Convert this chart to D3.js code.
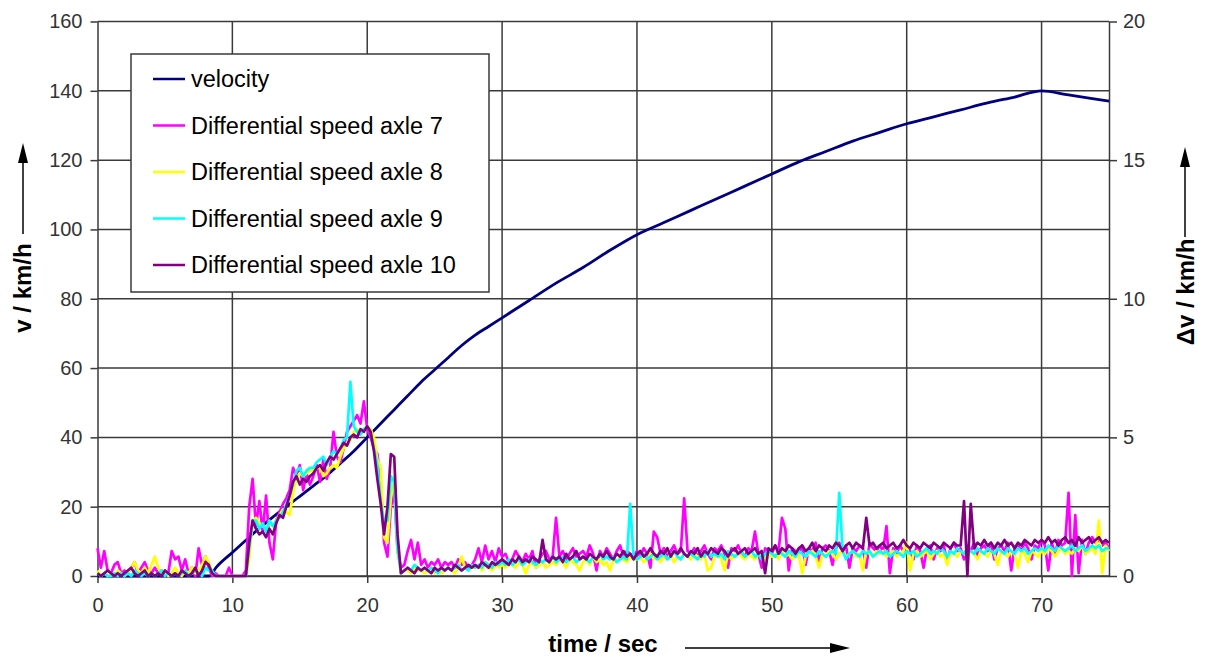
<!DOCTYPE html>
<html lang="en">
<head>
<meta charset="UTF-8">
<title>Velocity and differential speed</title>
<script src="https://cdn.jsdelivr.net/npm/d3@7/dist/d3.min.js"></script>
<style>
  body { margin: 0; background: #fff; }
  svg text { font-family: "Liberation Sans", Arial, sans-serif; }
</style>
</head>
<body>
<script>
// velocity (left axis, km/h) sampled at these times (s)
const velT = [0, 8.3, 8.8, 10, 11, 12, 13, 14, 15, 16, 17, 18, 19, 20, 21, 22, 23, 24, 25, 26, 27, 28, 29, 30,
  32, 34, 36, 38, 40, 42, 44, 46, 48, 50, 52, 54, 56, 58, 60, 62, 64, 66, 68, 70, 72, 75];
const velV = [0, 0, 2.5, 6.8, 10.3, 13.8, 17, 20, 23, 26, 29, 32.5, 36, 40, 44, 48, 52, 56, 59.5, 63, 66.5, 69.5, 72, 74.5,
  79.5, 84.5, 89, 94, 98.5, 102, 105.5, 109, 112.5, 116, 119.5, 122.5, 125.5, 128, 130.5, 132.5, 134.5, 136.5, 138.2, 140, 138.8, 137];

// differential speed (right axis, km/h), one value every 0.25 s from 0 to 75 s
const sampleStep = 0.25;
const axle7 = [
  1.0,0.3,0.9,0.2,0.1,0.4,0.5,0.1,  // 0
  0.2,0.1,0.3,0.5,0.1,0.3,0.5,0.2,  // 2
  0.1,0.3,0.1,0.2,0.0,0.1,0.9,0.6,  // 4
  0.7,0.2,0.6,0.1,0.3,0.0,1.0,0.4,  // 6
  0.7,0.3,0.0,0.1,0.0,0.0,0.0,0.3,  // 8
  0.0,0.0,0.0,0.0,0.2,2.5,3.5,1.8,  // 10
  2.7,1.6,2.9,1.2,0.6,2.0,2.3,2.6,  // 12
  2.8,3.1,3.9,3.6,4.0,3.1,3.7,3.3,  // 14
  3.6,4.0,3.4,4.2,3.5,3.9,5.2,4.3,  // 16
  4.1,4.6,5.2,5.4,5.6,5.8,5.5,6.3,  // 18
  5.3,5.0,4.6,4.4,3.4,1.2,0.7,2.5,  // 20
  3.0,0.9,0.3,0.4,0.9,1.3,0.6,1.2,  // 22
  0.4,0.6,0.3,0.5,0.4,0.6,0.3,0.5,  // 24
  0.4,0.5,0.3,0.6,0.4,0.5,0.3,0.4,  // 26
  0.6,1.0,0.5,1.1,0.6,0.9,0.5,1.0,  // 28
  0.7,0.8,0.5,0.6,0.9,0.7,0.5,0.8,  // 30
  0.6,0.9,0.3,0.6,0.8,0.9,0.6,0.7,  // 32
  2.1,0.7,0.9,0.6,0.8,1.0,0.7,0.8,  // 34
  0.9,0.7,1.1,0.8,0.2,0.9,0.7,1.0,  // 36
  0.8,0.6,0.9,1.1,0.7,0.9,0.8,0.7,  // 38
  0.9,0.7,1.0,0.8,0.3,1.6,1.4,0.8,  // 40
  1.0,0.7,0.9,1.1,0.8,0.9,2.8,0.9,  // 42
  0.8,1.0,0.7,0.9,1.1,0.8,0.6,1.0,  // 44
  0.9,1.1,0.8,0.3,1.0,0.9,1.1,0.8,  // 46
  0.7,1.0,0.9,1.6,0.8,0.3,1.0,0.9,  // 48
  0.8,1.1,0.9,2.1,1.7,0.2,1.0,0.9,  // 50
  0.8,1.1,0.4,1.0,0.9,1.2,0.5,1.0,  // 52
  1.1,0.9,0.4,1.0,1.2,0.9,1.1,0.3,  // 54
  1.0,0.9,1.1,1.0,0.3,1.2,1.0,0.9,  // 56
  1.1,0.9,1.8,0.1,1.0,0.8,1.1,0.9,  // 58
  1.0,0.9,0.6,1.1,0.9,0.3,1.0,1.1,  // 60
  0.6,1.0,0.9,1.1,0.5,1.0,1.2,0.9,  // 62
  1.0,0.6,1.1,0.9,1.2,0.7,1.0,1.1,  // 64
  0.9,1.2,0.6,1.0,1.1,0.9,1.2,0.2,  // 66
  1.0,1.1,0.9,1.2,1.0,0.6,1.1,1.0,  // 68
  1.3,1.1,0.2,1.2,0.8,1.3,1.1,1.2,  // 70
  3.0,0.0,2.2,0.1,1.3,0.8,1.2,1.4,  // 72
  1.2,1.3,1.1,1.2,1.0               // 74
];
const axle8 = [
  0.2,0.0,0.1,0.0,0.1,0.0,0.2,0.1,
  0.0,0.1,0.3,0.5,0.2,0.1,0.3,0.1,
  0.4,0.7,0.3,0.1,0.2,0.0,0.1,0.3,
  0.1,0.0,0.2,0.1,0.3,0.1,0.2,0.4,
  0.7,0.5,0.1,0.0,0.0,0.0,0.0,0.0,
  0.0,0.0,0.0,0.0,0.0,0.6,2.0,2.1,
  1.9,1.8,1.7,1.9,1.8,2.0,2.2,2.4,
  2.3,2.2,3.0,3.5,3.7,3.6,3.7,3.8,
  3.8,3.9,3.9,3.6,3.7,3.9,4.0,3.9,
  4.3,4.6,4.8,4.9,5.2,5.3,5.2,5.3,
  5.4,5.3,5.0,4.2,3.9,1.4,1.2,2.8,
  3.6,0.9,0.1,0.2,0.2,0.1,0.3,0.2,
  0.2,0.1,0.2,0.3,0.1,0.2,0.1,0.2,
  0.3,0.2,0.1,0.3,0.7,0.3,0.2,0.3,
  0.3,0.4,0.2,0.5,0.3,0.2,0.4,0.3,
  0.4,0.3,0.5,0.4,0.3,0.5,0.4,0.1,
  0.4,0.5,0.3,0.4,0.5,0.3,0.4,0.5,
  0.4,0.6,0.5,0.3,0.6,0.5,0.4,0.2,
  0.5,0.6,0.4,0.7,0.5,0.6,0.4,0.5,
  0.2,0.6,0.5,0.7,0.6,0.5,0.7,0.6,
  0.6,0.7,0.5,0.6,0.8,0.6,0.7,0.5,
  0.7,0.6,0.8,0.5,0.7,0.6,0.8,0.7,
  0.6,0.8,0.7,0.6,0.8,0.2,0.3,0.7,
  0.8,0.6,0.2,0.8,0.6,0.7,0.9,0.7,
  0.6,0.8,0.7,0.6,0.8,0.7,0.6,0.8,
  0.7,0.8,0.6,0.9,0.7,0.8,0.6,0.7,
  0.8,0.1,0.7,0.8,0.9,0.7,0.3,0.8,
  0.7,0.9,0.8,0.6,0.8,0.9,0.7,0.8,
  0.9,0.7,0.8,0.2,0.9,0.8,0.7,0.9,
  0.8,0.9,0.7,0.8,0.9,0.7,0.8,0.9,
  1.2,0.2,0.8,0.9,0.7,0.8,0.9,0.6,
  0.8,0.9,0.7,0.8,0.4,0.9,0.8,0.7,
  0.9,0.8,0.7,0.9,0.8,0.6,0.9,0.8,
  0.7,0.9,0.8,0.4,0.9,0.8,0.7,0.9,
  0.8,0.3,0.9,0.8,0.5,0.9,0.8,0.7,
  0.9,0.8,1.0,0.9,0.7,0.9,1.0,0.8,
  0.9,0.8,1.0,0.9,1.1,0.8,0.9,1.0,
  0.8,2.0,0.1,1.1,0.9
];
const axle9 = [
  0.1,0.0,0.1,0.0,0.0,0.1,0.0,0.1,
  0.0,0.1,0.0,0.2,0.1,0.0,0.1,0.0,
  0.1,0.0,0.1,0.2,0.0,0.1,0.0,0.1,
  0.0,0.1,0.2,0.0,0.1,0.2,0.1,0.0,
  0.3,0.2,0.2,0.0,0.0,0.0,0.0,0.0,
  0.0,0.0,0.0,0.0,0.0,1.0,2.0,2.0,
  1.7,1.9,1.6,2.0,1.8,2.0,2.1,2.3,
  2.6,2.9,3.3,3.8,3.9,3.6,3.8,3.9,
  3.9,4.1,4.2,4.3,4.0,4.3,4.5,4.4,
  4.6,4.9,5.0,7.0,5.4,5.2,5.1,5.3,
  5.4,5.2,4.6,4.0,2.7,1.9,2.0,3.6,
  3.4,1.0,0.1,0.2,0.3,0.2,0.4,0.3,
  0.2,0.3,0.2,0.3,0.2,0.1,0.3,0.2,
  0.3,0.2,0.3,0.4,0.2,0.3,0.2,0.4,
  0.3,0.4,0.3,0.5,0.4,0.3,0.5,0.4,
  0.5,0.4,0.6,0.4,0.5,0.6,0.4,0.5,
  0.6,0.5,0.4,0.6,0.5,0.6,0.5,0.7,
  0.5,0.6,0.7,0.5,0.6,0.7,0.5,0.6,
  0.7,0.6,0.5,0.7,0.6,0.8,0.6,0.7,
  0.6,0.7,0.5,0.6,0.7,0.6,2.6,0.7,
  0.6,0.7,0.8,0.6,0.7,0.8,0.6,0.7,
  0.8,0.6,0.7,0.9,0.7,0.6,0.8,0.7,
  0.8,0.7,0.6,0.8,0.7,0.9,0.7,0.8,
  0.7,0.8,0.6,0.9,0.8,0.7,0.8,0.9,
  0.7,0.8,0.9,0.7,0.8,0.6,0.8,0.9,
  0.8,0.7,0.9,0.8,0.7,0.9,0.8,0.7,
  0.9,0.8,0.7,0.9,0.8,0.7,0.9,0.8,
  0.7,0.8,0.9,0.8,3.0,0.9,0.6,0.8,
  0.9,0.8,0.7,0.9,0.8,0.9,0.7,0.8,
  0.9,0.8,0.9,0.7,0.8,0.9,0.8,0.7,
  0.9,0.8,0.9,0.7,0.8,0.9,1.0,0.8,
  0.9,0.8,1.0,0.9,0.7,0.9,0.8,1.0,
  0.9,0.8,1.0,0.9,0.8,1.0,0.9,0.8,
  1.0,0.9,0.8,1.0,0.9,0.8,1.0,0.9,
  0.8,1.0,0.9,1.0,0.8,0.9,1.0,0.9,
  1.0,0.9,1.1,1.0,0.9,1.1,1.0,0.9,
  1.0,1.1,0.9,1.0,1.1,0.9,1.0,1.1,
  1.0,1.1,0.9,1.0,1.0
];
const axle10 = [
  0.1,0.0,0.1,0.2,0.1,0.0,0.1,0.0,
  0.1,0.2,0.3,0.1,0.0,0.1,0.2,0.0,
  0.1,0.0,0.1,0.0,0.2,0.1,0.0,0.1,
  0.0,0.2,0.1,0.0,0.1,0.3,0.0,0.2,
  0.5,0.4,0.1,0.0,0.0,0.0,0.0,0.0,
  0.0,0.0,0.0,0.0,0.0,1.2,2.0,1.7,
  1.5,1.6,1.4,1.7,1.5,1.9,2.2,2.1,
  2.5,2.9,3.4,3.6,3.3,3.5,3.4,3.6,
  3.7,3.9,4.0,3.8,4.1,4.3,4.2,4.4,
  4.6,4.8,4.7,5.0,5.1,5.0,5.3,5.2,
  5.4,5.2,4.5,3.5,2.6,1.5,2.5,4.4,
  4.3,1.5,0.1,0.2,0.3,0.2,0.1,0.3,
  0.2,0.3,0.2,0.1,0.3,0.2,0.3,0.2,
  0.3,0.2,0.4,0.3,0.2,0.3,0.4,0.3,
  0.4,0.3,0.5,0.4,0.3,0.5,0.4,0.5,
  0.6,0.5,0.4,0.6,0.5,0.7,0.5,0.6,
  0.5,0.7,0.6,0.5,1.3,0.6,0.5,0.7,
  0.6,0.7,0.5,0.8,0.6,0.7,0.9,0.6,
  0.7,0.6,0.8,0.7,0.6,0.8,0.7,0.9,
  0.7,0.6,0.8,0.7,0.9,0.7,0.8,0.6,
  0.8,0.9,0.7,0.8,1.0,0.8,0.7,0.9,
  0.8,1.0,0.7,0.9,0.8,1.0,0.8,0.7,
  0.9,0.8,1.0,0.7,0.9,0.8,1.0,0.9,
  0.8,1.0,0.9,0.7,0.9,1.0,0.8,0.9,
  1.0,0.8,0.9,1.0,0.8,0.9,0.1,1.0,
  0.9,1.1,0.8,1.0,0.9,1.1,1.0,0.8,
  1.0,1.1,0.9,1.0,1.2,0.9,1.1,1.0,
  0.9,1.1,1.0,1.2,1.1,0.9,1.1,1.2,
  1.0,1.2,1.1,1.0,2.1,1.1,1.2,1.0,
  1.1,1.2,1.0,1.1,1.2,1.0,1.1,1.3,
  1.1,1.0,1.2,1.1,1.0,1.2,1.1,1.0,
  1.2,1.1,1.0,1.2,1.1,1.0,1.2,1.1,
  1.1,2.7,0.0,2.6,1.0,1.2,1.1,1.3,
  1.1,1.2,1.0,1.2,1.1,1.3,1.1,1.2,
  1.0,1.2,1.1,1.3,1.2,1.1,1.3,1.2,
  1.3,1.2,1.4,1.2,1.3,1.1,1.3,1.4,
  1.2,1.3,1.1,1.4,1.2,1.3,1.4,1.2,
  1.3,1.4,1.2,1.3,1.2
];

const seriesNames = ['velocity', 'Differential speed axle 7', 'Differential speed axle 8',
                     'Differential speed axle 9', 'Differential speed axle 10'];
const seriesColors = ['#000080', '#ff00ff', '#ffff00', '#00ffff', '#800080'];
const xTicks = [0, 10, 20, 30, 40, 50, 60, 70];
const leftTicks = [0, 20, 40, 60, 80, 100, 120, 140, 160];
const rightTicks = [0, 5, 10, 15, 20];

const w = 1207, h = 657;
const pl = 97.5, pr = 1109, pt = 21.5, pb = 576;

const svg = d3.select('body').append('svg')
  .attr('width', w).attr('height', h)
  .style('background', '#fff');

const x = d3.scaleLinear().domain([0, 75]).range([pl, pr]);
const yL = d3.scaleLinear().domain([0, 160]).range([pb, pt]);
const yR = d3.scaleLinear().domain([0, 20]).range([pb, pt]);

// grid
const grid = svg.append('g').attr('stroke', '#3a3a3a').attr('stroke-width', 1.5);
grid.selectAll('.hg').data(leftTicks).enter().append('line')
  .attr('x1', pl).attr('x2', pr)
  .attr('y1', d => yL(d)).attr('y2', d => yL(d));
grid.selectAll('.vg').data(xTicks.slice(1)).enter().append('line')
  .attr('y1', pt).attr('y2', pb)
  .attr('x1', d => x(d)).attr('x2', d => x(d));

function styleAxis(g) {
  g.attr('font-size', null).attr('font-family', null);
  g.selectAll('path, line').attr('stroke', '#3a3a3a').attr('stroke-width', 1.5);
  g.selectAll('text').attr('fill', '#333').style('font-size', '20px');
}

svg.append('g').attr('transform', `translate(${pl},0)`)
  .call(d3.axisLeft(yL).tickValues(leftTicks).tickSize(7).tickSizeOuter(0).tickPadding(8))
  .call(styleAxis);
svg.append('g').attr('transform', `translate(${pr},0)`)
  .call(d3.axisRight(yR).tickValues(rightTicks).tickSize(8).tickSizeOuter(0).tickPadding(6))
  .call(styleAxis);
svg.append('g').attr('transform', `translate(0,${pb})`)
  .call(d3.axisBottom(x).tickValues(xTicks).tickSize(7).tickSizeOuter(0).tickPadding(15))
  .call(styleAxis);

// lines
const velLine = d3.line().x((d, i) => x(velT[i])).y(d => yL(d)).curve(d3.curveMonotoneX);
const diffLine = d3.line().x((d, i) => x(i * sampleStep)).y(d => yR(d));

svg.append('path').datum(velV)
  .attr('d', velLine).attr('fill', 'none')
  .attr('stroke', seriesColors[0]).attr('stroke-width', 2.8);

[axle7, axle8, axle9, axle10].forEach((s, k) => {
  svg.append('path').datum(s)
    .attr('d', diffLine).attr('fill', 'none')
    .attr('stroke', seriesColors[k + 1]).attr('stroke-width', 2.7)
    .attr('stroke-linejoin', 'round');
});

// legend
const legend = svg.append('g').attr('transform', 'translate(131,54)');
legend.append('rect').attr('width', 358).attr('height', 238)
  .attr('fill', '#fff').attr('stroke', '#3a3a3a').attr('stroke-width', 1.5);
const item = legend.selectAll('.item').data(seriesNames).enter().append('g')
  .attr('transform', (d, i) => `translate(0,${25 + i * 46.5})`);
item.append('line').attr('x1', 22).attr('x2', 54)
  .attr('stroke', (d, i) => seriesColors[i]).attr('stroke-width', 2.5);
item.append('text').attr('x', 60).attr('dy', '0.35em')
  .style('font-size', '23.5px').attr('fill', '#000').text(d => d);

// axis titles with arrows
function arrowUp(cx, yTip, yEnd) {
  svg.append('line').attr('x1', cx).attr('x2', cx).attr('y1', yTip + 12).attr('y2', yEnd)
    .attr('stroke', '#000').attr('stroke-width', 1.5);
  svg.append('path').attr('d', `M${cx},${yTip} L${cx - 5},${yTip + 20} L${cx + 5},${yTip + 20} Z`)
    .attr('fill', '#000');
}
arrowUp(23, 143, 234);
arrowUp(1185, 147, 237);

svg.append('text').attr('transform', 'translate(31,288) rotate(-90)')
  .attr('text-anchor', 'middle').style('font-size', '24px').style('font-weight', 'bold')
  .text('v / km/h');
svg.append('text').attr('transform', 'translate(1194,292) rotate(-90)')
  .attr('text-anchor', 'middle').style('font-size', '24px').style('font-weight', 'bold')
  .text('Δv / km/h');

svg.append('text').attr('x', 603).attr('y', 652)
  .attr('text-anchor', 'middle').style('font-size', '24px').style('font-weight', 'bold')
  .text('time / sec');
svg.append('line').attr('x1', 685).attr('x2', 838).attr('y1', 648).attr('y2', 648)
  .attr('stroke', '#000').attr('stroke-width', 1.5);
svg.append('path').attr('d', 'M850,648 L830,643 L830,653 Z').attr('fill', '#000');
</script>
</body>
</html>
